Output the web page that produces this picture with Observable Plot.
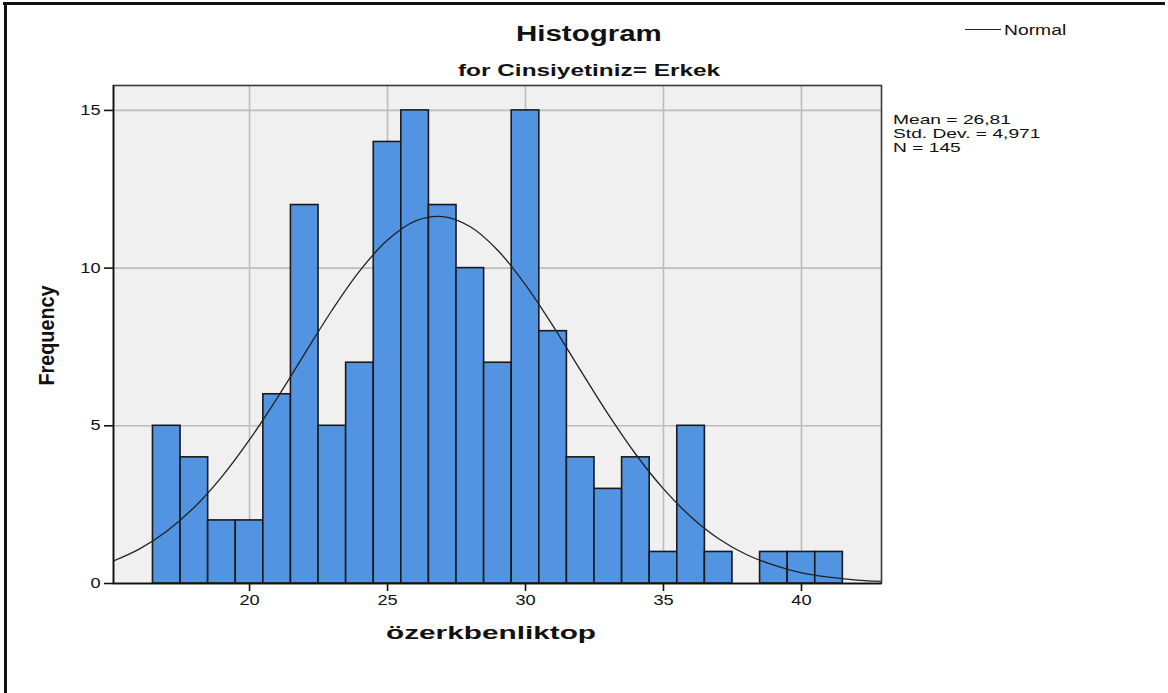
<!DOCTYPE html>
<html>
<head>
<meta charset="utf-8">
<script src="https://cdn.jsdelivr.net/npm/d3@7"></script>
<script src="https://cdn.jsdelivr.net/npm/@observablehq/plot@0.6"></script>
<style>
  html, body { margin: 0; padding: 0; background: #fff; }
  #wrap { position: relative; width: 1168px; height: 693px; overflow: hidden; background: #fff; }
  #wrap svg { position: absolute; left: 0; top: 0; }
  .t { position: absolute; white-space: nowrap; font-family: "Liberation Sans", Arial, sans-serif; color: #111; line-height: 1; transform-origin: 0 0; }
  #borderTop { position: absolute; left: 3px; top: 2px; width: 1162px; height: 3px; background: #111; }
  #borderLeft { position: absolute; left: 4px; top: 2px; width: 3px; height: 691px; background: #111; }
</style>
</head>
<body>
<div id="wrap">
  <div id="borderTop"></div>
  <div id="borderLeft"></div>
</div>
<script>
// ---- data ----
const binCenters = [17, 18, 19, 20, 21, 22, 23, 24, 25, 26, 27, 28, 29, 30, 31, 32, 33, 34, 35, 36, 37, 38, 39, 40, 41];
const frequencies = [5, 4, 2, 2, 6, 12, 5, 7, 14, 15, 12, 10, 7, 15, 8, 4, 3, 4, 1, 5, 1, 0, 1, 1, 1];
const normalX = [15, 16, 17, 18, 19, 20, 21, 22, 23, 24, 25, 26, 27, 28, 29, 30, 31, 32, 33, 34, 35, 36, 37, 38, 39, 40, 41, 42, 43];
const normalY = [0.69, 1.09, 1.66, 2.42, 3.39, 4.56, 5.88, 7.29, 8.68, 9.92, 10.89, 11.49, 11.63, 11.31, 10.56, 9.47, 8.16, 6.75, 5.36, 4.09, 3.00, 2.11, 1.42, 0.92, 0.58, 0.34, 0.20, 0.11, 0.06];
const xTicks = [20, 25, 30, 35, 40];
const yTicks = [0, 5, 10, 15];
const titleText = "Histogram";
const subtitleText = "for Cinsiyetiniz= Erkek";
const xLabel = "özerkbenliktop";
const yLabel = "Frequency";
const legendLabel = "Normal";
const statsLines = ["Mean = 26,81", "Std. Dev. = 4,971", "N = 145"];

const bins = binCenters.map((c, i) => ({x1: c - 0.5, x2: c + 0.5, count: frequencies[i]})).filter(d => d.count > 0);
const curve = normalX.map((x, i) => ({x, y: normalY[i]}));

const chart = Plot.plot({
  width: 1168,
  height: 693,
  marginLeft: 113,
  marginRight: 287,
  marginTop: 85,
  marginBottom: 110,
  style: {fontFamily: "'Liberation Sans', Arial, sans-serif", background: "transparent", color: "#111"},
  x: {domain: [15.07, 42.9], label: null},
  y: {domain: [0, 15.79], label: null},
  marks: [
    Plot.frame({fill: "#f0f0f0", stroke: null}),
    Plot.gridX(xTicks, {stroke: "#bdbdbd", strokeOpacity: 1, strokeWidth: 1.6}),
    Plot.gridY(yTicks, {stroke: "#bdbdbd", strokeOpacity: 1, strokeWidth: 1.6}),
    Plot.rectY(bins, {x1: "x1", x2: "x2", y: "count", fill: "#5294e2", stroke: "#1a1a1a", strokeWidth: 1.6}),
    Plot.line(curve, {x: "x", y: "y", stroke: "#222", strokeWidth: 1.3, curve: "catmull-rom", clip: true}),
    Plot.frame({stroke: "#3a3a3a", strokeWidth: 1.6}),
    Plot.ruleX([15.07], {stroke: "#111", strokeWidth: 1.6}),
    Plot.ruleY([0], {stroke: "#111", strokeWidth: 1.6}),
    Plot.axisX({ticks: xTicks, tickSize: 8, tickPadding: 4, fontSize: 14, stroke: "#111", strokeWidth: 1.6, label: null}),
    Plot.axisY({ticks: yTicks, tickSize: 9, tickPadding: 4, fontSize: 14, stroke: "#111", strokeWidth: 1.6, label: null})
  ]
});
const wrap = document.getElementById("wrap");
wrap.appendChild(chart);

// horizontally stretch tick labels like the reference (scaling about each label's anchor)
chart.querySelectorAll('g[aria-label="x-axis tick label"] text, g[aria-label="y-axis tick label"] text').forEach(t => {
  const tr = t.getAttribute("transform") || "";
  const xa = t.getAttribute("x");
  let extra = "";
  if (xa !== null && !isNaN(parseFloat(xa)) && /^-?[\d.]+$/.test(xa.trim())) {
    extra = ` translate(${parseFloat(xa)},0)`;
    t.removeAttribute("x");
  }
  t.setAttribute("transform", (tr + extra + " scale(1.3,1)").trim());
});

// ---- HTML text placed around the svg ----
function addText(str, opts) {
  const el = document.createElement("div");
  el.className = "t";
  el.textContent = str;
  el.style.fontSize = opts.size + "px";
  el.style.fontWeight = opts.bold ? "bold" : "normal";
  wrap.appendChild(el);
  const w = el.offsetWidth, h = el.offsetHeight;
  const sx = opts.width ? opts.width / w : (opts.sx || 1);
  const W = w * sx;
  const left = opts.cx !== undefined ? opts.cx - W / 2 : opts.left;
  el.style.left = left + "px";
  el.style.top = (opts.cy - h / 2) + "px";
  el.style.transform = `scale(${sx},1)`;
  return sx;
}
addText(titleText, {size: 22, bold: true, cx: 589, cy: 34, width: 146});
addText(subtitleText, {size: 16, bold: true, cx: 589, cy: 71, width: 262});
addText(xLabel, {size: 18, bold: true, cx: 491, cy: 633, width: 210});
addText(legendLabel, {size: 14, left: 1004, cy: 30, width: 62});
const sStats = addText(statsLines[0], {size: 13.5, left: 893, cy: 120, width: 118});
addText(statsLines[1], {size: 13.5, left: 893, cy: 134, sx: sStats});
addText(statsLines[2], {size: 13.5, left: 893, cy: 148, sx: sStats});

// legend line
const lg = document.createElement("div");
Object.assign(lg.style, {position: "absolute", left: "965px", top: "29px", width: "36px", height: "1.3px", background: "#222"});
wrap.appendChild(lg);

// rotated y label
(function () {
  const el = document.createElement("div");
  el.className = "t";
  el.textContent = yLabel;
  el.style.fontSize = "17px";
  el.style.fontWeight = "bold";
  wrap.appendChild(el);
  const w = el.offsetWidth, h = el.offsetHeight;
  const sl = 100 / w;
  el.style.left = (47 - w / 2) + "px";
  el.style.top = (335 - h / 2) + "px";
  el.style.transformOrigin = "50% 50%";
  el.style.transform = `rotate(-90deg) scale(${sl},1.3)`;
})();
</script>
</body>
</html>
